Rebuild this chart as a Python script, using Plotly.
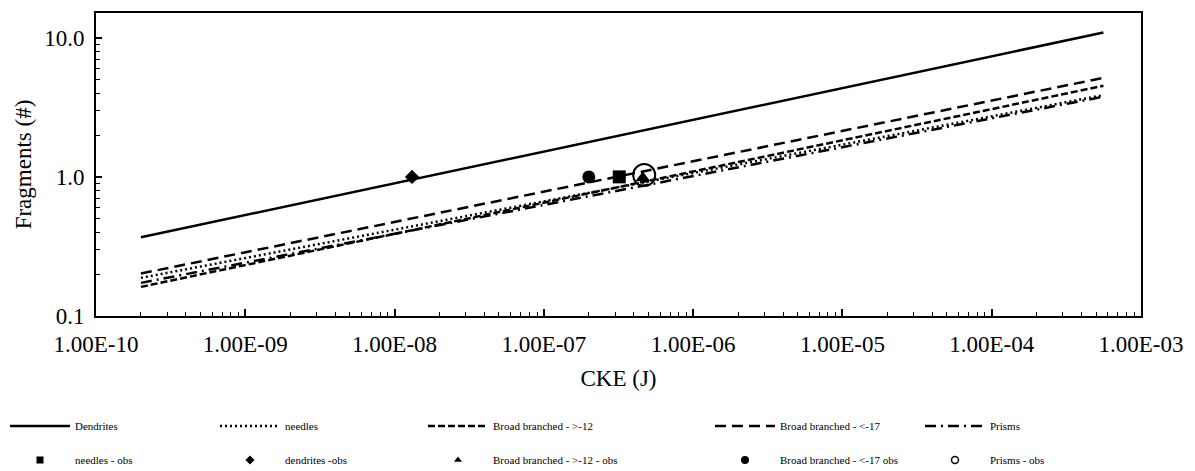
import plotly.graph_objects as go

# ---------------- data ----------------
cke_line = [2.0e-10, 5.6e-4]           # CKE (J) range of the fitted curves
dendrites = [0.368, 10.9]
needles = [0.188, 3.87]
bb_gt12 = [0.162, 4.52]
bb_lt17 = [0.202, 5.15]
prisms = [0.173, 3.77]

needles_obs_x = [3.2e-7];  needles_obs_y = [1.0]
dendrites_obs_x = [1.31e-8]; dendrites_obs_y = [1.0]
bb_gt12_obs_x = [4.6e-7];  bb_gt12_obs_y = [0.98]
bb_lt17_obs_x = [2.0e-7];  bb_lt17_obs_y = [1.0]
prisms_obs_x = [4.7e-7];   prisms_obs_y = [1.03]

x_tickvals = [1e-10, 1e-9, 1e-8, 1e-7, 1e-6, 1e-5, 1e-4, 1e-3]
x_ticktext = ["1.00E-10", "1.00E-09", "1.00E-08", "1.00E-07",
              "1.00E-06", "1.00E-05", "1.00E-04", "1.00E-03"]
y_tickvals = [0.1, 1.0, 10.0]
y_ticktext = ["0.1", "1.0", "10.0"]

FONT = "Liberation Serif"
BLACK = "black"

fig = go.Figure()

line_specs = [
    ("Dendrites", dendrites, "solid", "legend"),
    ("needles", needles, "2px,3px", "legend2"),
    ("Broad branched - >-12", bb_gt12, "7px,3px", "legend3"),
    ("Broad branched - <-17", bb_lt17, "11px,6px", "legend4"),
    ("Prisms", prisms, "11px,5px,2px,5px", "legend5"),
]
for name, ys, dash, lg in line_specs:
    fig.add_trace(go.Scatter(
        x=cke_line, y=ys, mode="lines", name=name, legend=lg,
        line=dict(color=BLACK, width=2.5, dash=dash)))

obs_specs = [
    ("needles - obs", needles_obs_x, needles_obs_y, "square", 13, 7, "legend6", True),
    ("dendrites -obs", dendrites_obs_x, dendrites_obs_y, "diamond", 11, 7, "legend7", True),
    ("Broad branched - >-12 - obs", bb_gt12_obs_x, bb_gt12_obs_y, "triangle-up", 13, 7, "legend8", True),
    ("Broad branched - <-17 obs", bb_lt17_obs_x, bb_lt17_obs_y, "circle", 13, 8, "legend9", True),
    ("Prisms - obs", prisms_obs_x, prisms_obs_y, "circle-open", 22, 7, "legend10", False),
]
for name, xs, ys, sym, size, lsize, lg, filled in obs_specs:
    fig.add_trace(go.Scatter(
        x=xs, y=ys, mode="markers", name=name, showlegend=False,
        marker=dict(symbol=sym, size=size, color=BLACK,
                    line=dict(color=BLACK, width=2 if not filled else 0))))
    fig.add_trace(go.Scatter(
        x=[None], y=[None], mode="markers", name=name, legend=lg,
        marker=dict(symbol=sym, size=lsize, color=BLACK,
                    line=dict(color=BLACK, width=1.5 if not filled else 0))))

# the page adds an 8px body margin, so the figure is laid out 8px smaller/offset
OFF = 8
W, H = 1195 - OFF, 471 - OFF
L, R, T, B = 96 - OFF, 1141 - OFF, 13 - OFF, 316 - OFF
pw, ph = R - L, B - T

def lx(px):
    return (px - OFF - L) / pw

def ly(py):
    return (B - (py - OFF)) / ph

text_starts = [75, 285, 493, 780, 990]
row_y = [426, 460]
legend_names = ["legend", "legend2", "legend3", "legend4", "legend5",
                "legend6", "legend7", "legend8", "legend9", "legend10"]
legends = {}
for i, lg in enumerate(legend_names):
    col = i % 5
    row = i // 5
    legends[lg] = dict(
        x=lx(text_starts[col] - 70), y=ly(row_y[row]),
        xanchor="left", yanchor="middle", orientation="v",
        font=dict(family=FONT, size=11, color=BLACK),
        itemwidth=60, bgcolor="rgba(0,0,0,0)", borderwidth=0,
        tracegroupgap=0)

minor_x = [m * 10.0 ** e for e in range(-10, -3) for m in range(2, 10)]
minor_y = [m * 10.0 ** e for e in range(-1, 2) for m in range(2, 10)]

fig.update_layout(
    width=W, height=H,
    margin=dict(l=L, r=W - R, t=T, b=H - B, pad=0, autoexpand=False),
    paper_bgcolor="white", plot_bgcolor="white",
    font=dict(family=FONT, color=BLACK),
    showlegend=True,
    **legends,
    xaxis=dict(
        type="log", range=[-10, -3.0], automargin=False,
        tickmode="array", tickvals=x_tickvals, ticktext=x_ticktext,
        ticks="inside", ticklen=7, tickwidth=1.5, tickcolor=BLACK,
        tickfont=dict(family=FONT, size=23, color=BLACK),
        ticklabelstandoff=6,
        showline=True, linecolor=BLACK, linewidth=2, mirror=True,
        showgrid=False, zeroline=False,
        minor=dict(tickmode="array", tickvals=minor_x, ticks="inside",
                   ticklen=4, tickwidth=1.2, tickcolor=BLACK, showgrid=False),
        title=dict(text="CKE (J)", font=dict(family=FONT, size=23, color=BLACK),
                   standoff=14),
    ),
    yaxis=dict(
        type="log", range=[-1, 1.178], automargin=False,
        tickmode="array", tickvals=y_tickvals, ticktext=y_ticktext,
        ticks="inside", ticklen=6, tickwidth=1.5, tickcolor=BLACK,
        tickfont=dict(family=FONT, size=23, color=BLACK),
        ticklabelstandoff=5,
        showline=True, linecolor=BLACK, linewidth=2, mirror=True,
        showgrid=False, zeroline=False,
        minor=dict(tickmode="array", tickvals=minor_y, ticks="inside",
                   ticklen=4, tickwidth=1.2, tickcolor=BLACK, showgrid=False),
        title=dict(text="Fragments (#)", font=dict(family=FONT, size=23, color=BLACK),
                   standoff=6),
    ),
)

fig.write_html("out.html")
